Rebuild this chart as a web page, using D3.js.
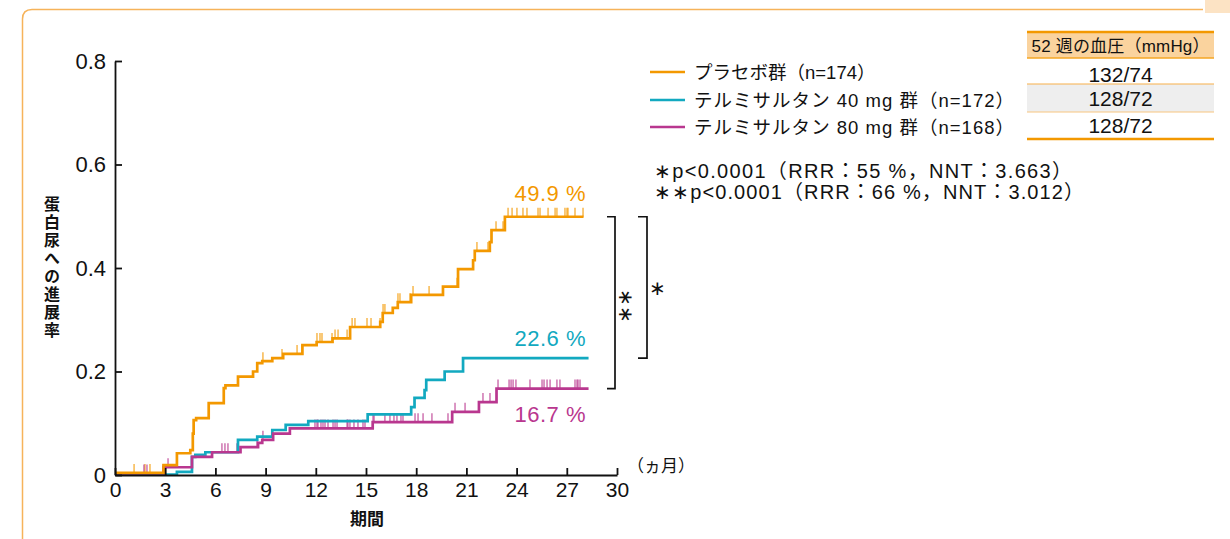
<!DOCTYPE html>
<html>
<head>
<meta charset="utf-8">
<script src="https://cdnjs.cloudflare.com/ajax/libs/d3/7.8.5/d3.min.js"></script>
<style>
  html, body { margin: 0; padding: 0; background: #fff; }
  svg { display: block; }
  .num { font-family: "Liberation Sans", "Noto Sans CJK JP", sans-serif; }
  .jp { font-family: "Noto Sans CJK JP", "Liberation Sans", sans-serif; }
</style>
</head>
<body>
<div id="chartdiv"></div>
<script>
// ---- data ----
var seriesNames = ["プラセボ群（n=174）", "テルミサルタン 40 mg 群（n=172）", "テルミサルタン 80 mg 群（n=168）"];
var seriesColors = ["#F39800", "#12A9C0", "#B9378F"];
var endLabels = ["49.9 %", "22.6 %", "16.7 %"];

// step points [month, cumulative rate]
var placeboSteps = [[0,0.004],[2.9,0.019],[3.7,0.042],[4.5,0.048],[4.65,0.08],[4.7,0.106],[4.85,0.11],[5.6,0.139],[6.5,0.168],[6.6,0.173],[7.35,0.19],[8.25,0.2],[8.5,0.216],[8.8,0.22],[9.4,0.226],[10.05,0.234],[11.2,0.251],[12.05,0.257],[13.0,0.264],[14.05,0.286],[15.85,0.296],[16.0,0.313],[16.6,0.323],[16.9,0.334],[17.7,0.348],[19.6,0.364],[20.5,0.398],[21.4,0.415],[21.5,0.433],[22.4,0.45],[22.5,0.473],[23.3,0.499],[28.0,0.499]];
var tel40Steps = [[0,0.001],[3.7,0.006],[4.6,0.035],[4.8,0.039],[5.4,0.044],[7.35,0.068],[8.5,0.074],[9.4,0.087],[10.2,0.097],[11.55,0.104],[15.1,0.117],[17.7,0.131],[17.9,0.149],[18.5,0.164],[18.6,0.184],[19.7,0.2],[20.8,0.226],[28.3,0.226]];
var tel80Steps = [[0,0.003],[2.9,0.015],[4.6,0.035],[5.8,0.044],[7.5,0.054],[8.55,0.062],[8.8,0.068],[9.45,0.08],[10.45,0.09],[15.4,0.102],[20.15,0.122],[21.75,0.141],[22.8,0.167],[28.3,0.167]];

// censoring marks (months)
var placeboCensor = [1.14,1.79,2.09,8.84,9.98,10.88,11.18,12.07,12.25,12.37,12.97,13.15,13.33,13.87,14.17,14.34,15.06,15.3,15.84,16.02,16.13,16.91,17.03,17.63,17.81,18.77,20.44,21.63,22.29,22.77,23.19,23.49,23.73,24.02,24.38,24.62,25.28,25.4,25.88,26.3,26.41,26.89,27.01,27.07,27.49,27.97];
var tel40Censor = [];
var tel80Censor = [1.73,1.91,2.87,3.17,6.39,6.57,6.75,7.29,8.49,8.84,11.95,12.07,12.13,12.31,12.43,12.55,12.73,13.03,13.15,13.27,13.87,13.92,14.04,14.28,14.52,14.82,14.94,15.42,15.48,16.13,16.43,16.67,16.85,17.09,17.21,17.93,18.11,18.41,18.94,19.9,20.32,20.92,21.99,22.41,22.89,23.55,23.67,23.79,23.96,24.8,25.52,25.64,25.82,26.0,26.41,26.59,27.49,27.61,27.67,27.79];

var xTicks = [0,3,6,9,12,15,18,21,24,27,30];
var yTicks = [0,0.2,0.4,0.6,0.8];

var tableHeader = "52 週の血圧（mmHg）";
var tableValues = ["132/74", "128/72", "128/72"];
var statLines = ["∗p<0.0001（RRR：55 %，NNT：3.663）", "∗∗p<0.0001（RRR：66 %，NNT：3.012）"];

var allSteps = [placeboSteps, tel40Steps, tel80Steps];
var allCensor = [placeboCensor, tel40Censor, tel80Censor];

// ---- drawing ----
var W = 1230, H = 539;
var svg = d3.select("#chartdiv").append("svg")
    .attr("width", W).attr("height", H);

svg.append("rect").attr("width", W).attr("height", H).attr("fill", "#fff");

// frame
svg.append("rect").attr("x", 1205).attr("y", 0).attr("width", 25).attr("height", 13).attr("fill", "#FCE3C4");
svg.append("path")
    .attr("d", "M22.5,545 L22.5,19 Q22.5,9.5 32,9.5 L1203,9.5")
    .attr("fill", "none").attr("stroke", "#F6B35A").attr("stroke-width", 1.5);

var xScale = d3.scaleLinear().domain([0, 30]).range([115, 617]);
var yScale = d3.scaleLinear().domain([0, 0.8]).range([475, 61]);

function valueAt(steps, t) {
    var i = d3.bisector(function(d) { return d[0]; }).right(steps, t) - 1;
    return steps[Math.max(0, i)][1];
}

var line = d3.line()
    .x(function(d) { return xScale(d[0]); })
    .y(function(d) { return yScale(d[1]); })
    .curve(d3.curveStepAfter);

// censor ticks
allCensor.forEach(function(cens, si) {
    svg.append("g")
        .selectAll("line")
        .data(cens)
        .enter()
        .append("line")
        .attr("x1", function(d) { return xScale(d); })
        .attr("x2", function(d) { return xScale(d); })
        .attr("y1", function(d) { return yScale(valueAt(allSteps[si], d)); })
        .attr("y2", function(d) { return yScale(valueAt(allSteps[si], d)) - 9; })
        .attr("stroke", seriesColors[si])
        .attr("stroke-opacity", 0.7)
        .attr("stroke-width", 1.5);
});

// step curves (draw 40mg, 80mg, then placebo on top)
[1, 2, 0].forEach(function(si) {
    svg.append("path")
        .datum(allSteps[si])
        .attr("d", line)
        .attr("fill", "none")
        .attr("stroke", seriesColors[si])
        .attr("stroke-width", 2.7);
});

// axes
var yAxis = d3.axisLeft(yScale).tickValues(yTicks).tickSize(-7).tickSizeOuter(0).tickPadding(9)
    .tickFormat(function(d) { return d === 0 ? "0" : d3.format(".1f")(d); });
var xAxis = d3.axisBottom(xScale).tickValues(xTicks).tickSize(-7).tickSizeOuter(0).tickPadding(7);

var gy = svg.append("g").attr("class", "num").attr("transform", "translate(115,0)").call(yAxis);
var gx = svg.append("g").attr("class", "num").attr("transform", "translate(0,475)").call(xAxis);
[gx, gy].forEach(function(g) {
    g.selectAll("path,line").attr("stroke", "#111").attr("stroke-width", 1.8);
    g.selectAll("text").attr("font-size", 22).attr("fill", "#111");
});
gx.selectAll("text").attr("font-size", 21);

svg.append("text").attr("class", "jp")
    .attr("x", 627).attr("y", 472)
    .attr("font-size", 17).attr("fill", "#111")
    .text("（ヵ月）");

svg.append("text").attr("class", "jp")
    .attr("x", 367).attr("y", 525)
    .attr("text-anchor", "middle")
    .attr("font-size", 17).attr("font-weight", "bold").attr("fill", "#111")
    .text("期間");

svg.append("text").attr("class", "jp")
    .attr("x", 52).attr("y", 268)
    .attr("text-anchor", "middle")
    .style("writing-mode", "vertical-rl")
    .attr("letter-spacing", 2)
    .attr("font-size", 16).attr("font-weight", "bold").attr("fill", "#111")
    .text("蛋白尿への進展率");

// end labels
var endY = [193, 338, 414];
endLabels.forEach(function(t, i) {
    svg.append("text").attr("class", "num")
        .attr("x", 586).attr("y", endY[i] + 8)
        .attr("text-anchor", "end")
        .attr("font-size", 22).attr("letter-spacing", 0.5).attr("fill", seriesColors[i])
        .text(t);
});

// brackets
function bracket(x, x0, v1, v2) {
    svg.append("path")
        .attr("d", "M" + x0 + "," + yScale(v1) + " H" + x + " V" + yScale(v2) + " H" + x0)
        .attr("fill", "none").attr("stroke", "#111").attr("stroke-width", 1.7);
}
bracket(615, 607, 0.499, 0.167);
bracket(647, 638, 0.499, 0.226);
svg.append("text").attr("class", "num").attr("x", 626).attr("y", 306)
    .attr("text-anchor", "middle")
    .style("writing-mode", "vertical-rl")
    .attr("font-size", 20).attr("fill", "#111").text("∗∗");
svg.append("text").attr("class", "num").attr("x", 657).attr("y", 295)
    .attr("text-anchor", "middle").attr("font-size", 20).attr("fill", "#111").text("∗");

// legend
var legY = [72, 100, 127];
var legW = [null, 320, 320];
seriesNames.forEach(function(n, i) {
    svg.append("line")
        .attr("x1", 650).attr("x2", 685)
        .attr("y1", legY[i]).attr("y2", legY[i])
        .attr("stroke", seriesColors[i]).attr("stroke-width", 2.4);
    svg.append("text").attr("class", "num")
        .attr("x", 694).attr("y", legY[i] + 7)
        .attr("font-size", 18.5).attr("fill", "#111")
        .attr("textLength", legW[i]).attr("lengthAdjust", "spacing")
        .text(n);
});

// table
var tx0 = 1027, tx1 = 1214, tcx = (tx0 + tx1) / 2;
svg.append("rect").attr("x", tx0).attr("y", 32).attr("width", tx1 - tx0).attr("height", 26).attr("fill", "#FAD39E");
svg.append("rect").attr("x", tx0).attr("y", 84).attr("width", tx1 - tx0).attr("height", 28).attr("fill", "#EEEEEE");
[[32, 2.5, "#F39800"], [58, 1.5, "#F5A623"], [84, 1.2, "#F7B04A"], [112, 1.2, "#F8C580"], [139, 2.5, "#F39800"]].forEach(function(r) {
    svg.append("line").attr("x1", tx0).attr("x2", tx1).attr("y1", r[0]).attr("y2", r[0])
        .attr("stroke", r[2]).attr("stroke-width", r[1]);
});
svg.append("text").attr("class", "num")
    .attr("x", tcx).attr("y", 52)
    .attr("text-anchor", "middle").attr("font-size", 17).attr("fill", "#111")
    .attr("textLength", 178).attr("lengthAdjust", "spacing")
    .text(tableHeader);
var rowY = [74, 98, 125];
tableValues.forEach(function(v, i) {
    svg.append("text").attr("class", "num")
        .attr("x", tcx).attr("y", rowY[i] + 8)
        .attr("text-anchor", "middle").attr("font-size", 21).attr("fill", "#111")
        .text(v);
});

// statistics
var statW = [418, 430];
statLines.forEach(function(s, i) {
    svg.append("text").attr("class", "num")
        .attr("x", 654).attr("y", 178 + i * 21)
        .attr("font-size", 20).attr("fill", "#111")
        .attr("textLength", statW[i]).attr("lengthAdjust", "spacing")
        .text(s);
});
</script>
</body>
</html>
